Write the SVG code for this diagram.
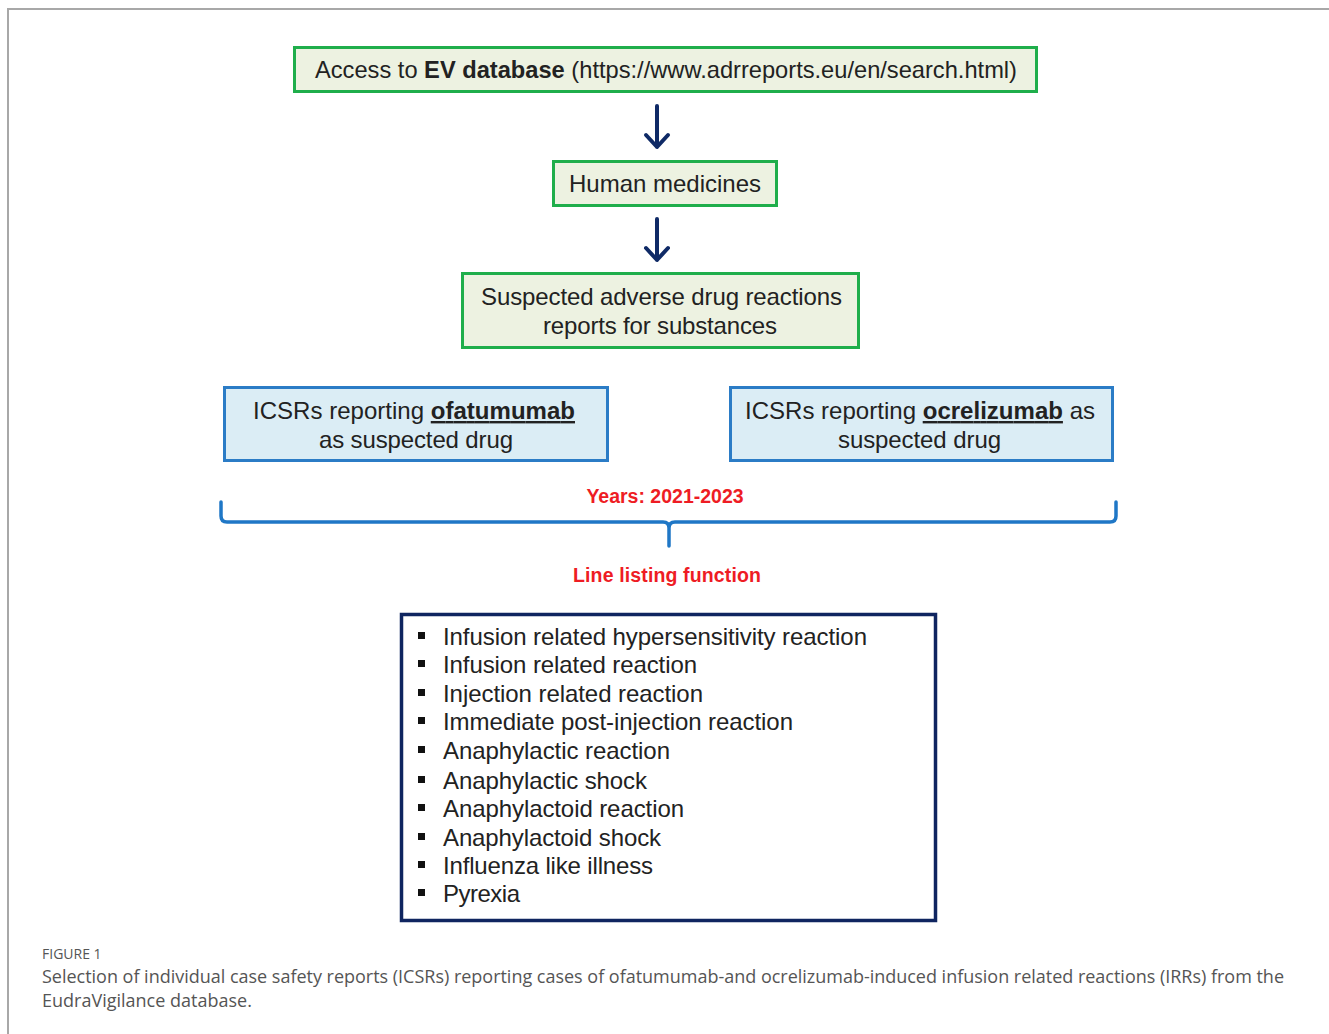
<svg xmlns="http://www.w3.org/2000/svg" width="1329" height="1034" viewBox="0 0 1329 1034">
<style>
.g{fill:#edf2e1;stroke:#1fae4b;stroke-width:3}
.b{fill:#dbedf5;stroke:#2b7cc6;stroke-width:3}
.t{font-family:"Liberation Sans",Arial,sans-serif;font-size:24px;fill:#222}
.r{font-family:"Liberation Sans",Arial,sans-serif;font-size:19.5px;font-weight:bold;fill:#ee1c24}
.cap{font-family:"Open Sans","Liberation Sans",sans-serif;fill:#555}
.arr{fill:none;stroke:#0f2a66;stroke-width:4;stroke-linecap:round;stroke-linejoin:round}
</style>
<rect width="1329" height="1034" fill="#fff"/>
<path d="M8,1034 V9 H1329" fill="none" stroke="#a8a8a8" stroke-width="2"/>
<g id="connectors">
<path class="arr" d="M657,106 V147 M646,135 L657,147 L668,135"/>
<path class="arr" d="M657,219 V260 M646,248 L657,260 L668,248"/>
<path d="M221,502 V516 Q221,522 227,522 H663 Q669,522 669,528 V546 V528 Q669,522 675,522 H1110 Q1116,522 1116,516 V502" fill="none" stroke="#1f77c6" stroke-width="3.5" stroke-linecap="round" stroke-linejoin="round"/>
</g>
<g id="n1">
<rect class="g" x="294.5" y="47.5" width="742" height="44"/>
<text class="t" x="315" y="78" textLength="702" lengthAdjust="spacingAndGlyphs">Access to <tspan font-weight="bold">EV database</tspan> (https://www.adrreports.eu/en/search.html)</text>
</g>
<g id="n2">
<rect class="g" x="553.5" y="161.5" width="223" height="44"/>
<text class="t" x="569" y="192" textLength="192">Human medicines</text>
</g>
<g id="n3">
<rect class="g" x="462.5" y="273.5" width="396" height="74"/>
<text class="t" x="481" y="305" textLength="361">Suspected adverse drug reactions</text>
<text class="t" x="543" y="334" textLength="234">reports for substances</text>
</g>
<g id="n4">
<rect class="b" x="224.5" y="387.5" width="383" height="73"/>
<text class="t" x="253" y="419" textLength="322">ICSRs reporting <tspan font-weight="bold" text-decoration="underline">ofatumumab</tspan></text>
<text class="t" x="319" y="448" textLength="194">as suspected drug</text>
</g>
<g id="n5">
<rect class="b" x="730.5" y="387.5" width="382" height="73"/>
<text class="t" x="745" y="419" textLength="350">ICSRs reporting <tspan font-weight="bold" text-decoration="underline">ocrelizumab</tspan> as</text>
<text class="t" x="838" y="448" textLength="163">suspected drug</text>
</g>
<g id="years">
<text class="r" x="665" y="503" text-anchor="middle">Years: 2021-2023</text>
</g>
<g id="lineListing">
<text class="r" x="667" y="582" text-anchor="middle" textLength="188">Line listing function</text>
</g>
<g id="list">
<rect x="401.5" y="614.5" width="534" height="306" fill="#fff" stroke="#0f2560" stroke-width="3.5"/>
<g fill="#111">
<rect x="418" y="632" width="7" height="7"/>
<rect x="418" y="660" width="7" height="7"/>
<rect x="418" y="689" width="7" height="7"/>
<rect x="418" y="717" width="7" height="7"/>
<rect x="418" y="746" width="7" height="7"/>
<rect x="418" y="776" width="7" height="7"/>
<rect x="418" y="804" width="7" height="7"/>
<rect x="418" y="833" width="7" height="7"/>
<rect x="418" y="861" width="7" height="7"/>
<rect x="418" y="889" width="7" height="7"/>
</g>
<text class="t" x="443" y="645" textLength="424">Infusion related hypersensitivity reaction</text>
<text class="t" x="443" y="673" textLength="254">Infusion related reaction</text>
<text class="t" x="443" y="702" textLength="260">Injection related reaction</text>
<text class="t" x="443" y="730" textLength="350">Immediate post-injection reaction</text>
<text class="t" x="443" y="759" textLength="227">Anaphylactic reaction</text>
<text class="t" x="443" y="789" textLength="204">Anaphylactic shock</text>
<text class="t" x="443" y="817" textLength="241">Anaphylactoid reaction</text>
<text class="t" x="443" y="846" textLength="218">Anaphylactoid shock</text>
<text class="t" x="443" y="874" textLength="210">Influenza like illness</text>
<text class="t" x="443" y="902" textLength="77">Pyrexia</text>
</g>
<g id="caption">
<text class="cap" x="42" y="959" font-size="14">FIGURE 1</text>
<text class="cap" x="42" y="983" font-size="18" textLength="1242">Selection of individual case safety reports (ICSRs) reporting cases of ofatumumab-and ocrelizumab-induced infusion related reactions (IRRs) from the</text>
<text class="cap" x="42" y="1007" font-size="18">EudraVigilance database.</text>
</g>
</svg>
